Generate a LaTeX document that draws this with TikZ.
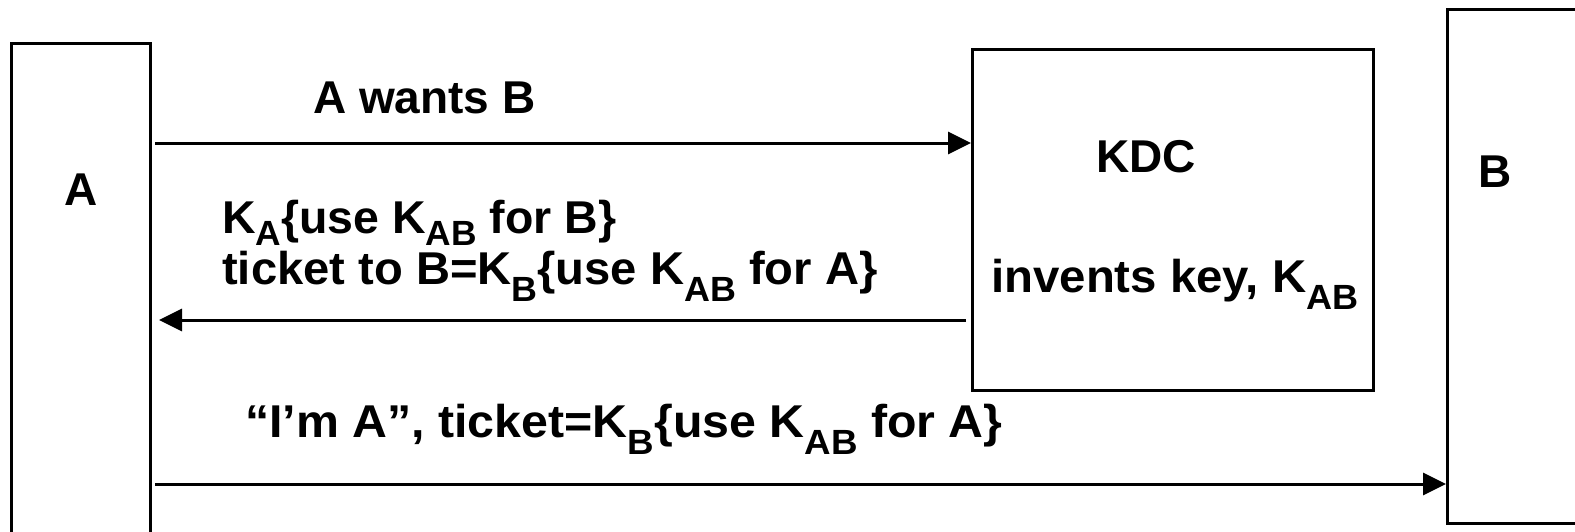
\documentclass[tikz,border=0pt]{standalone}
\usepackage{fontspec}
\setmainfont{Liberation Sans}
\usetikzlibrary{arrows.meta}
\newcommand\lowsub[2][0.38em]{\raisebox{-#1}{\fontsize{35}{35}\selectfont #2}}
\newcommand\wide[2]{\scalebox{#1}[1]{#2}}
\tikzset{
  box/.style={draw, line width=3pt, rectangle, inner sep=0pt, anchor=north west},
  lbl/.style={inner sep=0pt, anchor=base west, font=\fontsize{46}{52}\selectfont\bfseries},
  msg/.style={line width=3pt, -{Triangle[length=23pt,width=22pt]}}
}
\begin{document}
\begin{tikzpicture}[x=1pt,y=-1pt]
  \path[clip] (0,0) rectangle (1575,531);
  \fill[white] (0,0) rectangle (1575,531);

  % parties and the key distribution centre
  \node[box, minimum width=139pt, minimum height=560pt] (boxA) at (10,42) {};
  \node[box, minimum width=180pt, minimum height=514pt] (boxB) at (1446,8) {};
  \node[box, minimum width=401pt, minimum height=341pt] (kdc) at (971,48) {};

  \node[lbl] (labA) at (64,205) {A};
  \node[lbl] (labB) at (1478,187) {B};
  \node[lbl] (labKDC) at (1096,172) {KDC};
  \node[lbl] (invent) at (991,292) {\wide{1.03}{invents key, K\lowsub{AB}}};

  % message labels
  \node[lbl] (m1) at (313,113) {A wants B};
  \node[lbl] (m2a) at (222,233) {\wide{1.01}{K\lowsub[0.27em]{A}\{use K\lowsub[0.27em]{AB} for B\}}};
  \node[lbl] (m2b) at (222,284) {\wide{1.025}{ticket to B=K\lowsub{B}\{use K\lowsub{AB} for A\}}};
  \node[lbl] (m3) at (245,437) {\wide{1.05}{“I’m A”, ticket=K\lowsub{B}\{use K\lowsub{AB} for A\}}};

  % messages
  \draw[msg] ([xshift=3pt]boxA.east |- 0,143) -- (kdc.west |- 0,143);
  \draw[msg] ([xshift=-5pt]kdc.west |- 0,320) -- ([xshift=7pt]boxA.east |- 0,320);
  \draw[msg] ([xshift=3pt]boxA.east |- 0,484) -- (boxB.west |- 0,484);
\end{tikzpicture}
\end{document}
